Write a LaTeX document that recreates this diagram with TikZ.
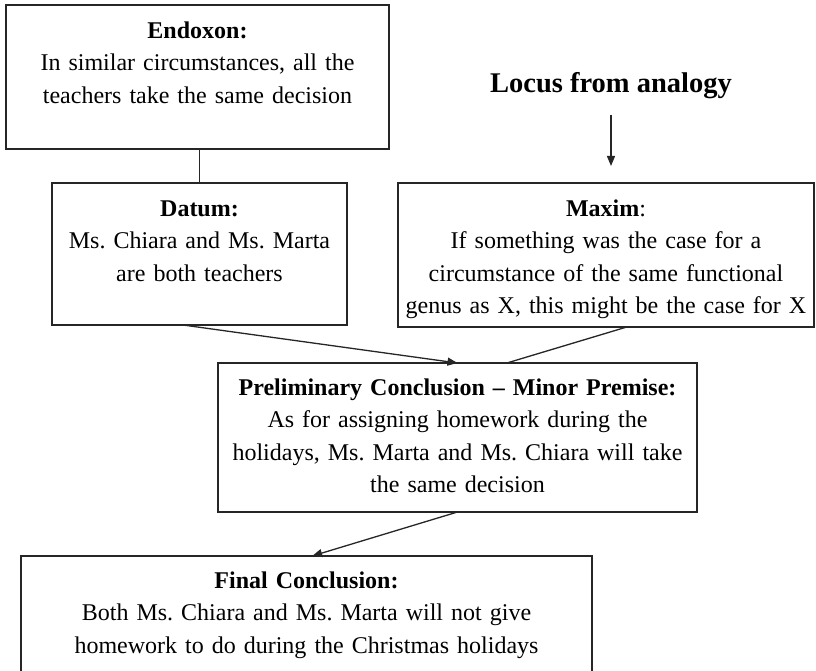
\documentclass[tikz,border=0pt]{standalone}
\usepackage{fontspec}
\setmainfont{Liberation Serif}
\usetikzlibrary{arrows.meta,calc}
\frenchspacing
\tikzset{
  box/.style={draw=black!85, line width=1.4pt, inner sep=0pt, outer sep=0pt, anchor=north west},
  boxtext/.style={anchor=north, align=center, inner sep=0pt, font=\fontsize{24}{32.5}\selectfont},
  link/.style={draw=black!85, line width=1.3pt},
  arrow/.style={link, -{Triangle[length=10pt,width=8pt]}},
}
\newcommand{\firstline}{\rule{0pt}{18pt}}
\begin{document}
\begin{tikzpicture}[x=1pt,y=-1pt]
\useasboundingbox (0,0) rectangle (816,671);
\clip (0,0) rectangle (816,671);

% boxes
\node[box, minimum width=383pt, minimum height=144pt] (endoxon) at (6,5) {};
\node[box, minimum width=295pt, minimum height=142pt] (datum) at (52,183) {};
\node[box, minimum width=416pt, minimum height=144pt] (maxim) at (398,183) {};
\node[box, minimum width=479pt, minimum height=149pt] (prelim) at (218,363) {};
\node[box, minimum width=571pt, minimum height=130pt] (final) at (21,556) {};

% box texts
\node[boxtext, text width=370pt] (endoxontext) at ($(endoxon.north)+(0,15)$)
  {\firstline\textbf{Endoxon:}\\In similar circumstances, all the\\teachers take the same decision};
\node[boxtext, text width=290pt] (datumtext) at ($(datum.north)+(0,15)$)
  {\firstline\textbf{Datum:}\\Ms. Chiara and Ms. Marta\\are both teachers};
\node[boxtext, text width=410pt] (maximtext) at ($(maxim.north)+(0,15)$)
  {\firstline\textbf{Maxim}:\\If something was the case for a\\circumstance of the same functional\\genus as X, this might be the case for X};
\node[boxtext, text width=470pt] (prelimtext) at ($(prelim.north)+(0,14)$)
  {\firstline\textbf{Preliminary Conclusion – Minor Premise:}\\As for assigning homework during the\\holidays, Ms. Marta and Ms. Chiara will take\\the same decision};
\node[boxtext, text width=560pt] (finaltext) at ($(final.north)+(0,14)$)
  {\firstline\textbf{Final Conclusion:}\\Both Ms. Chiara and Ms. Marta will not give\\homework to do during the Christmas holidays};

% heading of the locus
\node[anchor=base, inner sep=0pt, font=\fontsize{28.5}{34}\selectfont\bfseries] (locus) at (611,93) {Locus from analogy};
\coordinate (locusfoot) at (611,115);

% connectors
\draw[arrow, shorten >=17pt] (locusfoot) -- (maxim.north -| locusfoot);
\draw[link] (endoxon.south -| datum.north) -- (datum.north);
\draw[arrow] ($(datum.south west)!0.444!(datum.south east)$) -- (prelim.north);
\draw[link] ($(maxim.south west)!0.55!(maxim.south east)$) -- ($(prelim.north west)!0.603!(prelim.north east)$);
\draw[arrow] (prelim.south) -- ($(final.north west)!0.51!(final.north east)$);
\end{tikzpicture}
\end{document}
